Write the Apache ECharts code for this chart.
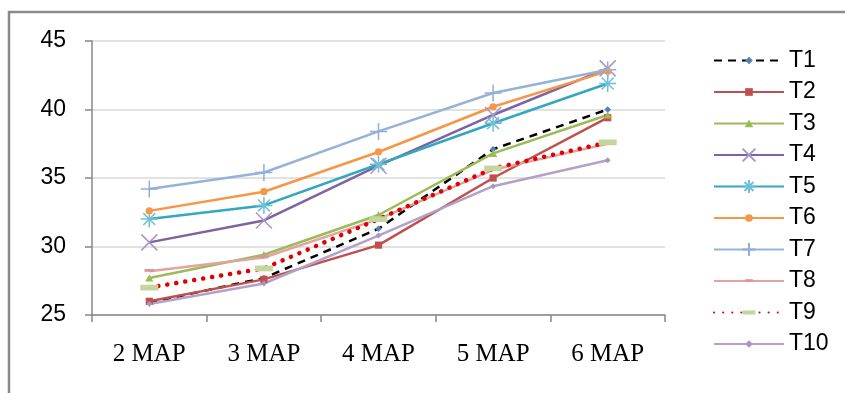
<!DOCTYPE html>
<html>
<head>
<meta charset="utf-8">
<script src="https://cdn.jsdelivr.net/npm/echarts@6/dist/echarts.min.js"></script>
<style>
  html, body { margin: 0; padding: 0; background: #fff; }
  #chart { width: 845px; height: 393px; }
</style>
</head>
<body>
<div id="chart"></div>
<script>
// Category labels along the x axis
const categories = ['2 MAP', '3 MAP', '4 MAP', '5 MAP', '6 MAP'];

// Series values, one array per trial
const t1 = [25.9, 27.7, 31.3, 37.1, 40.0];
const t2 = [26.0, 27.6, 30.1, 35.0, 39.4];
const t3 = [27.7, 29.4, 32.3, 36.8, 39.6];
const t4 = [30.3, 31.9, 35.9, 39.6, 43.0];
const t5 = [32.0, 33.0, 36.0, 39.0, 41.9];
const t6 = [32.6, 34.0, 36.9, 40.2, 42.8];
const t7 = [34.2, 35.4, 38.4, 41.2, 42.9];
const t8 = [28.2, 29.2, 32.0, 35.6, 37.5];
const t9 = [27.0, 28.4, 32.0, 35.7, 37.6];
const t10 = [25.8, 27.3, 30.8, 34.4, 36.3];

const seriesNames = ['T1', 'T2', 'T3', 'T4', 'T5', 'T6', 'T7', 'T8', 'T9', 'T10'];
const seriesValues = [t1, t2, t3, t4, t5, t6, t7, t8, t9, t10];

// Y axis range and step
const yMin = 25, yMax = 45, yStep = 5;

// Marker shapes. The small filled ones sit inside a padded 10x10 box so that
// they stay small next to the stroked cross/star/plus marks.
const PAD = 'M0,0M10,10';
const SQUARE_MARK = 'path://' + PAD + 'M2,2L8,2L8,8L2,8Z';
const CIRCLE_MARK = 'path://' + PAD + 'M8,5A3,3,0,1,1,2,5A3,3,0,1,1,8,5Z';
const TRI_MARK = 'path://' + PAD + 'M5,1.8L8.4,8L1.6,8Z';
const DIAMOND_MARK = 'path://' + PAD + 'M5,2L8,5L5,8L2,5Z';
const BAR_MARK = 'path://' + PAD + 'M2,3.6L8,3.6L8,5.4L2,5.4Z';
const WIDE_MARK = 'path://' + PAD + 'M0,3.4L10,3.4L10,6.6L0,6.6Z';
const X_MARK = 'path://M0,0L10,10M10,0L0,10';
const STAR_MARK = 'path://M5,0L5,10M0,5L10,5M1.5,1.5L8.5,8.5M8.5,1.5L1.5,8.5';
const PLUS_MARK = 'path://M5,0L5,10M0,5L10,5';

const styles = [
  { line: { color: '#000000', width: 2.5, type: [8, 6] }, symbol: DIAMOND_MARK, size: 11, item: { color: '#4f81bd' } },
  { line: { color: '#c0504d', width: 2.5 }, symbol: SQUARE_MARK, size: 12, item: { color: '#c0504d' } },
  { line: { color: '#9bbb59', width: 2.5 }, symbol: TRI_MARK, size: 12, item: { color: '#9bbb59' } },
  { line: { color: '#7f62a1', width: 2.5 }, symbol: X_MARK, size: 16, item: { color: 'none', borderColor: '#a996c6', borderWidth: 1.5 } },
  { line: { color: '#34a7c0', width: 2.5 }, symbol: STAR_MARK, size: 17, item: { color: 'none', borderColor: '#6fc0d6', borderWidth: 1.5 } },
  { line: { color: '#f79646', width: 2.5 }, symbol: CIRCLE_MARK, size: 12, item: { color: '#f79646' } },
  { line: { color: '#95b3d7', width: 2.5 }, symbol: PLUS_MARK, size: 17, item: { color: 'none', borderColor: '#8eaedb', borderWidth: 1.5 } },
  { line: { color: '#e2a3a1', width: 2.5 }, symbol: BAR_MARK, size: 16, item: { color: '#d99694' } },
  { line: { color: '#e00000', width: 4.5, type: [0.1, 9], cap: 'round' }, symbol: WIDE_MARK, size: 18, item: { color: '#c3d69b' } },
  { line: { color: '#b3a2c7', width: 2.5 }, symbol: DIAMOND_MARK, size: 10, item: { color: '#a996c6' } }
];

const series = seriesNames.map((name, i) => ({
  name: name,
  type: 'line',
  data: seriesValues[i],
  symbol: styles[i].symbol,
  symbolSize: styles[i].size,
  symbolKeepAspect: true,
  showAllSymbol: true,
  lineStyle: styles[i].line,
  itemStyle: styles[i].item,
  emphasis: { disabled: true },
  animation: false,
  z: i === 8 ? 3 : 2
}));

const chart = echarts.init(document.getElementById('chart'), null, { renderer: 'canvas' });
chart.setOption({
  backgroundColor: '#ffffff',
  animation: false,
  graphic: [{
    type: 'rect',
    shape: { x: 9, y: 12, width: 850, height: 400 },
    style: { fill: 'none', stroke: '#8a8a8a', lineWidth: 2.5 },
    silent: true
  }],
  grid: { left: 92, top: 41, right: 180, bottom: 78, containLabel: false },
  legend: {
    orient: 'vertical',
    left: 708,
    top: 44,
    padding: 5,
    itemWidth: 70,
    itemHeight: 16,
    itemGap: 8.5,
    selectedMode: false,
    textStyle: { fontFamily: 'Liberation Sans, Arial, sans-serif', fontSize: 23, lineHeight: 22, color: '#000' },
    data: seriesNames
  },
  xAxis: {
    type: 'category',
    data: categories,
    boundaryGap: true,
    axisLine: { lineStyle: { color: '#878787', width: 1.5 } },
    axisTick: { show: true, length: 7, lineStyle: { color: '#878787', width: 1.5 } },
    axisLabel: { margin: 27, fontFamily: 'Liberation Serif, Times New Roman, serif', fontSize: 25, color: '#000' },
    splitLine: { show: false }
  },
  yAxis: {
    type: 'value',
    min: yMin,
    max: yMax,
    interval: yStep,
    axisLine: { show: true, lineStyle: { color: '#878787', width: 1.5 } },
    axisTick: { show: true, length: 7, lineStyle: { color: '#878787', width: 1.5 } },
    axisLabel: { margin: 26, fontFamily: 'Liberation Sans, Arial, sans-serif', fontSize: 23, color: '#000' },
    splitLine: { lineStyle: { color: '#d9d9d9', width: 1.5 } }
  },
  series: series
});
</script>
</body>
</html>
